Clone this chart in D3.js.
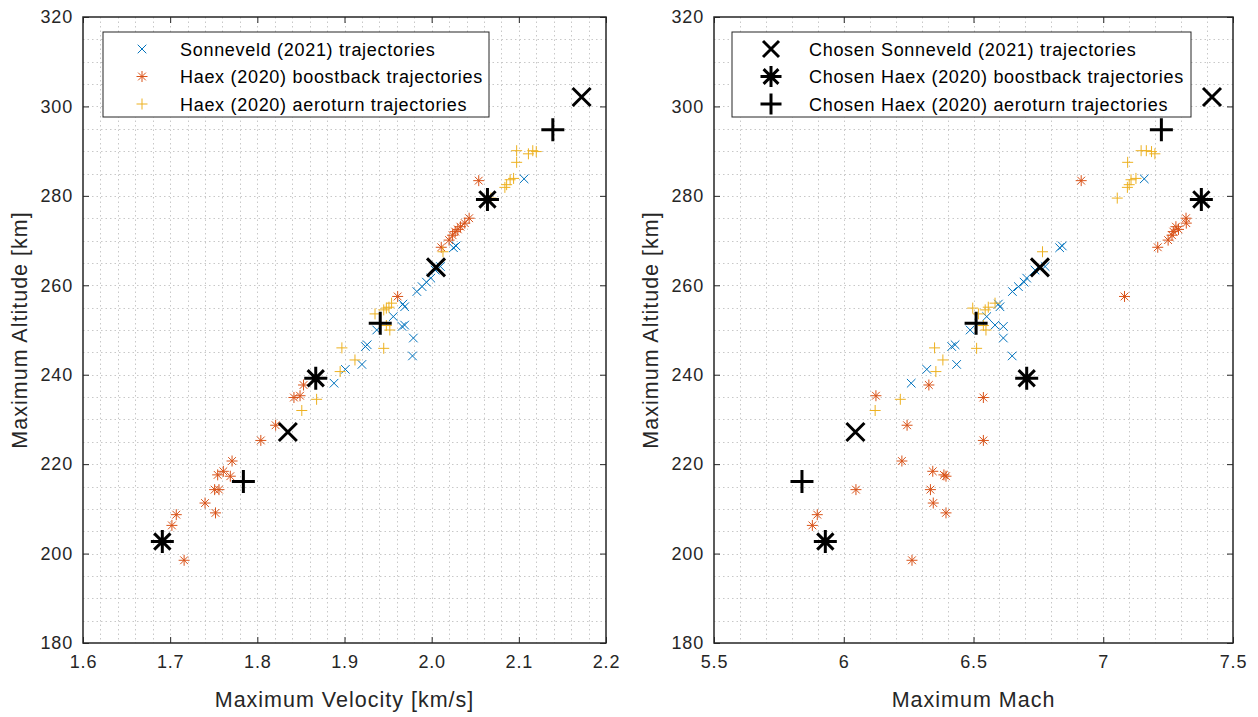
<!DOCTYPE html>
<html>
<head>
<meta charset="utf-8">
<script src="https://d3js.org/d3.v7.min.js"></script>
<style>
  html, body { margin: 0; padding: 0; background: #fff; }
  svg { display: block; font-family: "Liberation Sans", Arial, Helvetica, sans-serif; }
</style>
</head>
<body>
<svg id="chart" width="1258" height="717"></svg>
<script>
// ---------------- DATA ----------------
// Sonneveld (2021) trajectories
const sonAlt  = [283.8, 268.8, 268.4, 264.2, 263.4, 261.6, 260.7, 259.7, 258.6, 255.8, 255.2, 253.0, 251.1, 250.8, 250.0, 248.2, 244.2, 246.7, 246.3, 242.3, 241.2, 238.1];
const sonVel  = [2.106, 2.028, 2.025, 2.010, 2.004, 1.999, 1.994, 1.989, 1.983, 1.967, 1.969, 1.956, 1.969, 1.966, 1.937, 1.979, 1.978, 1.926, 1.924, 1.920, 1.901, 1.888];
const sonMach = [7.158, 6.842, 6.832, 6.776, 6.737, 6.705, 6.695, 6.673, 6.650, 6.596, 6.602, 6.551, 6.583, 6.615, 6.487, 6.615, 6.649, 6.429, 6.416, 6.435, 6.320, 6.260];

// Haex (2020) boostback trajectories
const boostAlt  = [283.4, 275.0, 273.9, 273.1, 272.5, 272.0, 271.2, 270.1, 268.5, 257.5, 237.7, 235.3, 234.9, 228.7, 225.3, 220.7, 218.4, 217.6, 217.3, 214.3, 214.3, 211.3, 209.1, 208.7, 206.3, 198.5];
const boostVel  = [2.054, 2.043, 2.038, 2.033, 2.030, 2.027, 2.024, 2.020, 2.011, 1.961, 1.853, 1.849, 1.842, 1.821, 1.804, 1.771, 1.761, 1.7545, 1.769, 1.751, 1.756, 1.740, 1.752, 1.707, 1.702, 1.716];
const boostMach = [6.915, 7.319, 7.320, 7.280, 7.290, 7.270, 7.265, 7.250, 7.210, 7.082, 6.328, 6.124, 6.538, 6.244, 6.538, 6.224, 6.343, 6.386, 6.394, 6.334, 6.047, 6.345, 6.394, 5.898, 5.879, 6.263];

// Haex (2020) aeroturn trajectories
const aeroAlt  = [290.1, 290.1, 289.9, 289.4, 287.5, 283.9, 283.6, 282.5, 281.9, 279.5, 267.5, 256.0, 255.1, 254.9, 254.5, 253.6, 251.0, 250.0, 245.9, 246.0, 243.3, 240.7, 234.5, 232.0];
const aeroVel  = [2.0975, 2.116, 2.120, 2.111, 2.0975, 2.094, 2.090, 2.086, 2.084, 2.068, 2.013, 1.954, 1.951, 1.948, 1.945, 1.935, 1.948, 1.952, 1.945, 1.897, 1.912, 1.895, 1.868, 1.851];
const aeroMach = [7.146, 7.166, 7.186, 7.199, 7.094, 7.126, 7.107, 7.100, 7.093, 7.054, 6.766, 6.583, 6.557, 6.497, 6.545, 6.519, 6.538, 6.548, 6.512, 6.350, 6.382, 6.355, 6.218, 6.121];

// Chosen trajectories
const sonChosenAlt    = [302.1, 264.0, 227.2];
const sonChosenVel    = [2.172, 2.005, 1.835];
const sonChosenMach   = [7.419, 6.756, 6.045];
const boostChosenAlt  = [279.2, 239.2, 202.7];
const boostChosenVel  = [2.064, 1.867, 1.691];
const boostChosenMach = [7.378, 6.705, 5.929];
const aeroChosenAlt   = [294.8, 251.5, 216.1];
const aeroChosenVel   = [2.139, 1.941, 1.784];
const aeroChosenMach  = [7.224, 6.510, 5.839];

// Ticks
const altTicks  = [180, 200, 220, 240, 260, 280, 300, 320];
const velTicks  = [1.6, 1.7, 1.8, 1.9, 2.0, 2.1, 2.2];
const machTicks = [5.5, 6, 6.5, 7, 7.5];

const leftLegend  = ["Sonneveld (2021) trajectories", "Haex (2020) boostback trajectories", "Haex (2020) aeroturn trajectories"];
const rightLegend = ["Chosen Sonneveld (2021) trajectories", "Chosen Haex (2020) boostback trajectories", "Chosen Haex (2020) aeroturn trajectories"];

// ---------------- DRAW ----------------
const svg = d3.select("#chart");
const TXT = "#262626";
const BLUE = "#0072BD", ORANGE = "#D95319", YELLOW = "#EDB120";

function markerPath(type, r) {
  const p = d3.path();
  if (type === "x" || type === "*") {
    const d = (type === "*") ? r * 0.7071 : r;
    p.moveTo(-d, -d); p.lineTo(d, d);
    p.moveTo(-d, d); p.lineTo(d, -d);
  }
  if (type === "+" || type === "*") {
    p.moveTo(-r, 0); p.lineTo(r, 0);
    p.moveTo(0, -r); p.lineTo(0, r);
  }
  return p.toString();
}

function panel(cfg) {
  const x = d3.scaleLinear().domain(cfg.xDomain).range([cfg.x0, cfg.x1]);
  const y = d3.scaleLinear().domain([180, 320]).range([643, 17]);
  const g = svg.append("g");

  // minor + major grid (dotted)
  const xMinor = d3.range(cfg.xDomain[0], cfg.xDomain[1] + 1e-9, cfg.xMinor);
  const yMinor = d3.range(180, 320 + 1e-9, 5);
  const grid = g.append("g").attr("stroke", "#c8c8c8").attr("stroke-width", 1).attr("stroke-dasharray", "1.5,3");
  grid.selectAll(".gx").data(xMinor.slice(1, -1)).join("line")
    .attr("x1", d => Math.round(x(d)) + 0.5).attr("x2", d => Math.round(x(d)) + 0.5)
    .attr("y1", 17).attr("y2", 643);
  grid.selectAll(".gy").data(yMinor.slice(1, -1)).join("line")
    .attr("y1", d => Math.round(y(d)) + 0.5).attr("y2", d => Math.round(y(d)) + 0.5)
    .attr("x1", cfg.x0).attr("x2", cfg.x1);

  // axes with inward ticks
  const axB = d3.axisBottom(x).tickValues(cfg.xTicks).tickSizeInner(-6).tickSizeOuter(0).tickPadding(12).tickFormat(cfg.xFmt);
  const axT = d3.axisTop(x).tickValues(cfg.xTicks).tickSizeInner(-6).tickSizeOuter(0).tickFormat("");
  const axL = d3.axisLeft(y).tickValues(altTicks).tickSizeInner(-6).tickSizeOuter(0).tickPadding(10).tickFormat(d3.format("d"));
  const axR = d3.axisRight(y).tickValues(altTicks).tickSizeInner(-6).tickSizeOuter(0).tickFormat("");
  const axes = [
    g.append("g").attr("transform", `translate(0,643)`).call(axB),
    g.append("g").attr("transform", `translate(0,17)`).call(axT),
    g.append("g").attr("transform", `translate(${cfg.x0},0)`).call(axL),
    g.append("g").attr("transform", `translate(${cfg.x1},0)`).call(axR)
  ];
  axes.forEach(a => {
    a.select(".domain").remove();
    a.selectAll("line").attr("stroke", TXT).attr("stroke-width", 1);
    a.selectAll("text").attr("fill", TXT).style("font-size", "18px").style("letter-spacing", "0.8px")
      .style("font-family", '"Liberation Sans", Arial, sans-serif');
  });

  // box
  g.append("rect").attr("x", cfg.x0).attr("y", 17).attr("width", cfg.x1 - cfg.x0).attr("height", 626)
    .attr("fill", "none").attr("stroke", TXT).attr("stroke-width", 1.5);

  // axis labels
  g.append("text").attr("x", (cfg.x0 + cfg.x1) / 2).attr("y", 707).attr("text-anchor", "middle")
    .attr("fill", TXT).style("font-size", "21.5px").style("letter-spacing", "1px").text(cfg.xLabel);
  g.append("text").attr("transform", `translate(${cfg.x0 - 56},330) rotate(-90)`).attr("text-anchor", "middle")
    .attr("fill", TXT).style("font-size", "21.5px").style("letter-spacing", "1px").text("Maximum Altitude [km]");

  // series
  function series(xs, ys, type, color, r, w) {
    g.append("g").selectAll("path").data(d3.range(xs.length)).join("path")
      .attr("transform", i => `translate(${x(xs[i])},${y(ys[i])})`)
      .attr("d", markerPath(type, r))
      .attr("fill", "none").attr("stroke", color).attr("stroke-width", w);
  }
  cfg.series.forEach(s => series(s[0], s[1], s[2], s[3], s[4], s[5]));

  // legend
  const lg = g.append("g");
  lg.append("rect").attr("x", cfg.lx).attr("y", 32).attr("width", cfg.lw).attr("height", 85)
    .attr("fill", "#fff").attr("stroke", "#262626").attr("stroke-width", 1);
  cfg.legend.forEach((L, i) => {
    const yy = 49 + i * 27.5;
    lg.append("path").attr("transform", `translate(${cfg.lx + 39},${yy})`)
      .attr("d", markerPath(L.type, L.r)).attr("fill", "none").attr("stroke", L.color).attr("stroke-width", L.w);
    lg.append("text").attr("x", cfg.lx + 77).attr("y", yy + 6.5).attr("fill", "#000")
      .style("font-size", "18px").style("letter-spacing", "0.7px").text(L.label);
  });
}

const KR = 11.5, KW = 3;
panel({
  x0: 83, x1: 606, xDomain: [1.6, 2.2], xMinor: 0.02, xTicks: velTicks, xFmt: d3.format(".1f"),
  xLabel: "Maximum Velocity [km/s]",
  lx: 103, lw: 386,
  series: [
    [sonVel, sonAlt, "x", BLUE, 4.3, 1],
    [boostVel, boostAlt, "*", ORANGE, 5.5, 1],
    [aeroVel, aeroAlt, "+", YELLOW, 5.5, 1],
    [sonChosenVel, sonChosenAlt, "x", "#000", 9, KW],
    [boostChosenVel, boostChosenAlt, "*", "#000", KR, KW],
    [aeroChosenVel, aeroChosenAlt, "+", "#000", KR, KW]
  ],
  legend: [
    { label: leftLegend[0], type: "x", color: BLUE, r: 4.3, w: 1 },
    { label: leftLegend[1], type: "*", color: ORANGE, r: 5.5, w: 1 },
    { label: leftLegend[2], type: "+", color: YELLOW, r: 5.5, w: 1 }
  ]
});
panel({
  x0: 714, x1: 1233, xDomain: [5.5, 7.5], xMinor: 0.1, xTicks: machTicks, xFmt: d => d3.format("")(d),
  xLabel: "Maximum Mach",
  lx: 732, lw: 459,
  series: [
    [sonMach, sonAlt, "x", BLUE, 4.3, 1],
    [boostMach, boostAlt, "*", ORANGE, 5.5, 1],
    [aeroMach, aeroAlt, "+", YELLOW, 5.5, 1],
    [sonChosenMach, sonChosenAlt, "x", "#000", 9, KW],
    [boostChosenMach, boostChosenAlt, "*", "#000", KR, KW],
    [aeroChosenMach, aeroChosenAlt, "+", "#000", KR, KW]
  ],
  legend: [
    { label: rightLegend[0], type: "x", color: "#000", r: 8, w: KW },
    { label: rightLegend[1], type: "*", color: "#000", r: 10.5, w: KW },
    { label: rightLegend[2], type: "+", color: "#000", r: 10.5, w: KW }
  ]
});
</script>
</body>
</html>
